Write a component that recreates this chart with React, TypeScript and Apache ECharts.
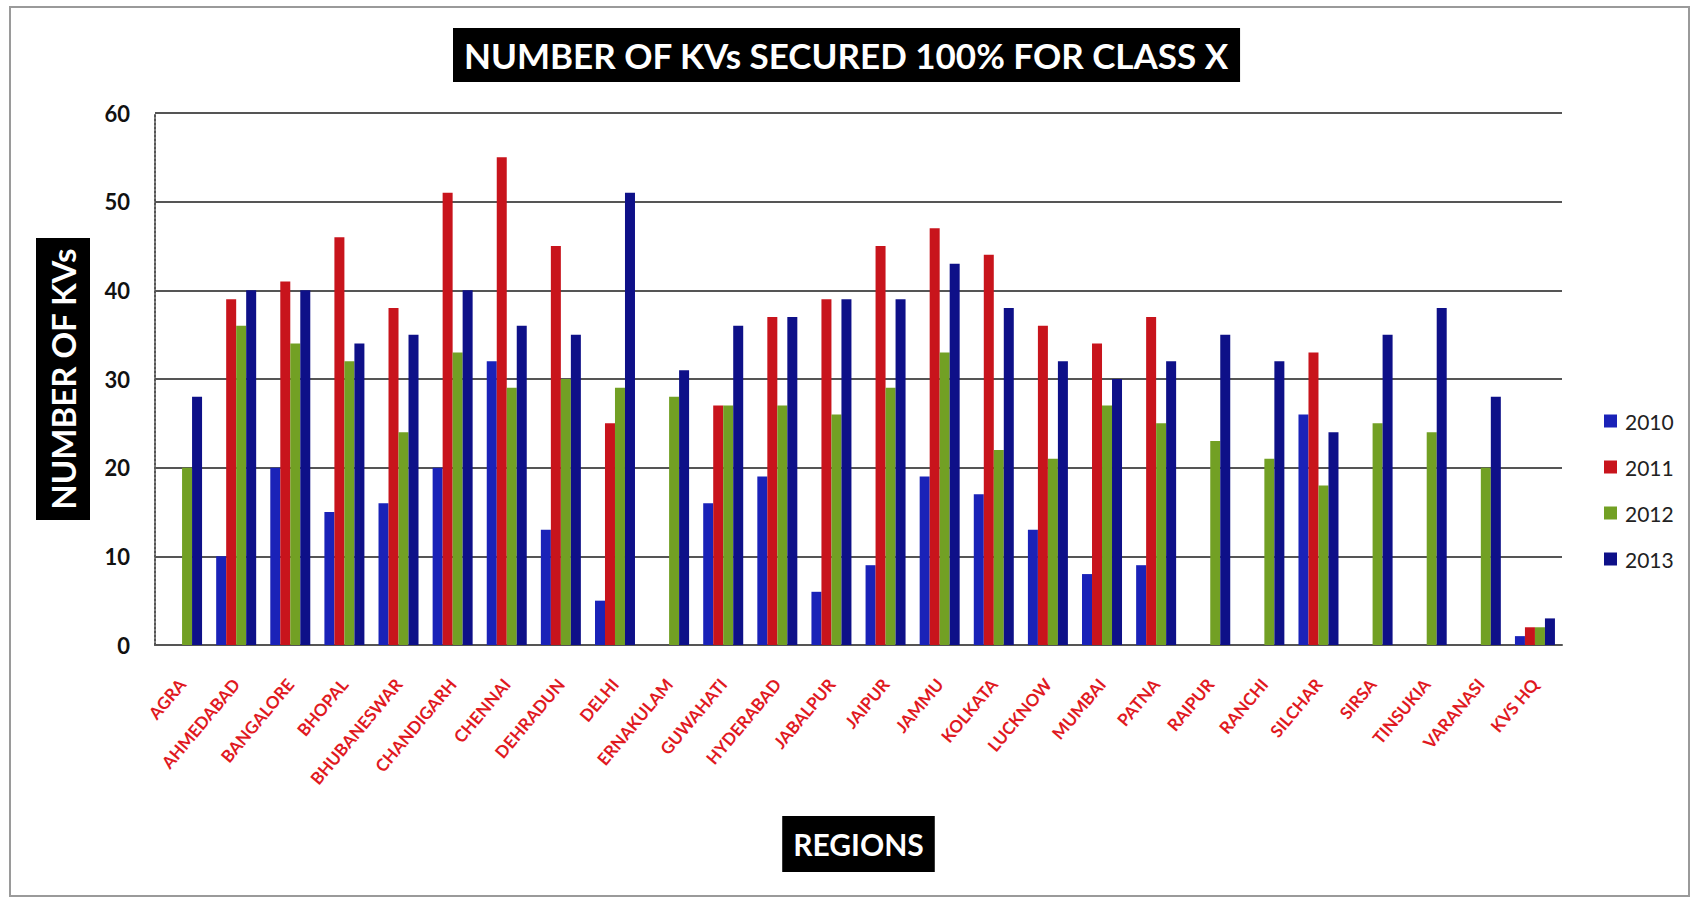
import React, { useEffect, useRef } from "react";
import * as echarts from "echarts";

const categories = [
  "AGRA", "AHMEDABAD", "BANGALORE", "BHOPAL", "BHUBANESWAR", "CHANDIGARH",
  "CHENNAI", "DEHRADUN", "DELHI", "ERNAKULAM", "GUWAHATI", "HYDERABAD",
  "JABALPUR", "JAIPUR", "JAMMU", "KOLKATA", "LUCKNOW", "MUMBAI", "PATNA",
  "RAIPUR", "RANCHI", "SILCHAR", "SIRSA", "TINSUKIA", "VARANASI", "KVS HQ",
];

const years = ["2010", "2011", "2012", "2013"];

const values2010 = [null, 10, 20, 15, 16, 20, 32, 13, 5, null, 16, 19, 6, 9, 19, 17, 13, 8, 9, null, null, 26, null, null, null, 1];
const values2011 = [null, 39, 41, 46, 38, 51, 55, 45, 25, null, 27, 37, 39, 45, 47, 44, 36, 34, 37, null, null, 33, null, null, null, 2];
const values2012 = [20, 36, 34, 32, 24, 33, 29, 30, 29, 28, 27, 27, 26, 29, 33, 22, 21, 27, 25, 23, 21, 18, 25, 24, 20, 2];
const values2013 = [28, 40, 40, 34, 35, 40, 36, 35, 51, 31, 36, 37, 39, 39, 43, 38, 32, 30, 32, 35, 32, 24, 35, 38, 28, 3];

const seriesValues = [values2010, values2011, values2012, values2013];
const seriesColors = ["#1a22b8", "#c8141c", "#72a024", "#0e1088"];

const titleText = "NUMBER OF KVs SECURED 100% FOR CLASS X";
const yAxisTitle = "NUMBER OF KVs";
const xAxisTitle = "REGIONS";

export default function App() {
  const ref = useRef<HTMLDivElement>(null);

  useEffect(() => {
    if (!ref.current) return;
    const chart = echarts.init(ref.current, null, { renderer: "svg" });
    const font = "Lato, 'Open Sans', sans-serif";
    chart.setOption({
      animation: false,
      backgroundColor: "#ffffff",
      title: {
        text: titleText,
        left: 453,
        top: 28,
        padding: [6, 11],
        backgroundColor: "#000000",
        textStyle: {
          color: "#ffffff",
          fontFamily: font,
          fontWeight: "bold",
          fontSize: 35,
          lineHeight: 42,
        },
      },
      legend: {
        data: years,
        orient: "vertical",
        left: 1599,
        top: 404,
        itemWidth: 13,
        itemHeight: 13,
        itemGap: 22,
        icon: "rect",
        textStyle: {
          fontFamily: font,
          fontSize: 21,
          color: "#222222",
          lineHeight: 24,
          padding: [0, 0, 0, 3],
        },
      },
      grid: {
        left: 155,
        right: 130,
        top: 113,
        bottom: 253,
        containLabel: false,
      },
      xAxis: {
        type: "category",
        data: categories,
        name: xAxisTitle,
        nameLocation: "middle",
        nameGap: 171,
        nameTextStyle: {
          color: "#ffffff",
          backgroundColor: "#000000",
          fontFamily: font,
          fontWeight: "bold",
          fontSize: 30,
          lineHeight: 38,
          padding: [9, 11],
        },
        axisLine: { show: true, lineStyle: { color: "#555555", width: 2 } },
        axisTick: { show: false },
        axisLabel: {
          interval: 0,
          rotate: 50,
          margin: 36,
          color: "#e0191f",
          fontFamily: font,
          fontWeight: "bold",
          fontSize: 17,
        },
      },
      yAxis: {
        type: "value",
        min: 0,
        max: 60,
        interval: 10,
        name: yAxisTitle,
        nameLocation: "middle",
        nameRotate: 90,
        nameGap: 65,
        nameTextStyle: {
          color: "#ffffff",
          backgroundColor: "#000000",
          fontFamily: font,
          fontWeight: "bold",
          fontSize: 33,
          lineHeight: 40,
          padding: [7, 10],
        },
        axisLine: { show: true, lineStyle: { color: "#555555", width: 2, type: "dotted" } },
        axisTick: { show: false },
        splitLine: { show: true, lineStyle: { color: "#555555", width: 2 } },
        axisLabel: {
          margin: 25,
          color: "#111111",
          fontFamily: font,
          fontWeight: "bold",
          fontSize: 22,
        },
      },
      series: years.map((y, i) => ({
        name: y,
        type: "bar",
        data: seriesValues[i],
        barWidth: 10,
        barGap: "0%",
        itemStyle: { color: seriesColors[i] },
      })),
      graphic: [
        {
          type: "rect",
          shape: { x: 10, y: 7, width: 1679, height: 889 },
          style: { fill: "none", stroke: "#9a9a9a", lineWidth: 2 },
          silent: true,
          z: -1,
        },
      ],
    });
    return () => chart.dispose();
  }, []);

  return (
    <div
      ref={ref}
      style={{ position: "absolute", left: 0, top: 0, width: 1692, height: 898 }}
    />
  );
}
